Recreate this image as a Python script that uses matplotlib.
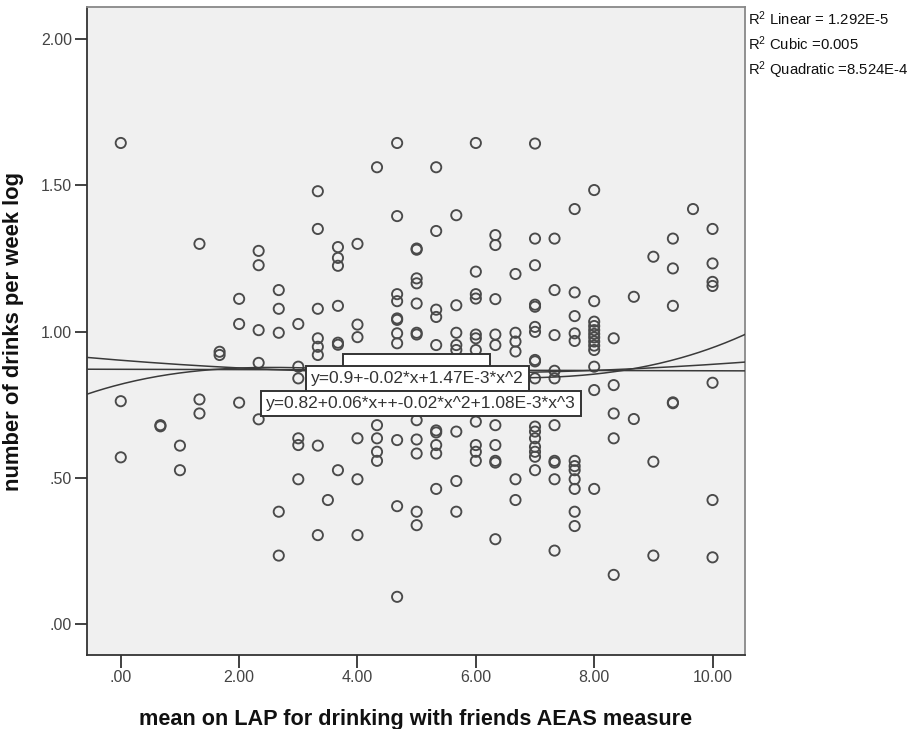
import numpy as np
import matplotlib
matplotlib.use('Agg')
import matplotlib.pyplot as plt
from matplotlib.patches import Rectangle

plt.rcParams['font.family'] = ['Liberation Sans', 'DejaVu Sans']

lap_levels = [0.0, 0.67, 1.0, 1.33, 1.67, 2.0, 2.33, 2.67, 3.0, 3.33, 3.5, 3.67,
              4.0, 4.33, 4.67, 5.0, 5.33, 5.67, 6.0, 6.33, 6.67, 7.0, 7.33,
              7.67, 8.0, 8.33, 8.67, 9.0, 9.33, 9.67, 10.0]
drinks_log = [
    [1.645, 0.762, 0.570],
    [0.680, 0.676],
    [0.610, 0.526],
    [1.300, 0.768, 0.720],
    [0.931, 0.920],
    [1.112, 1.026, 0.757],
    [1.276, 1.227, 1.005, 0.893, 0.700],
    [1.142, 1.078, 0.996, 0.384, 0.234],
    [1.026, 0.880, 0.840, 0.635, 0.612, 0.495],
    [1.480, 1.351, 1.078, 0.977, 0.948, 0.920, 0.610, 0.304],
    [0.424],
    [1.289, 1.252, 1.225, 1.088, 0.962, 0.955, 0.526],
    [1.300, 1.024, 0.981, 0.635, 0.495, 0.304],
    [1.562, 0.680, 0.635, 0.589, 0.558],
    [1.645, 1.395, 1.128, 1.104, 1.045, 1.040, 0.994, 0.960, 0.629, 0.403, 0.093],
    [1.284, 1.280, 1.182, 1.165, 1.096, 0.996, 0.990, 0.697, 0.631, 0.583, 0.384, 0.338],
    [1.562, 1.344, 1.075, 1.050, 0.954, 0.662, 0.655, 0.612, 0.583, 0.462],
    [1.398, 1.090, 0.996, 0.954, 0.937, 0.658, 0.489, 0.384],
    [1.645, 1.205, 1.128, 1.113, 0.990, 0.977, 0.937, 0.692, 0.612, 0.589, 0.558],
    [1.330, 1.296, 1.111, 0.990, 0.954, 0.680, 0.612, 0.558, 0.552, 0.290],
    [1.197, 0.996, 0.966, 0.932, 0.495, 0.424],
    [1.643, 1.318, 1.227, 1.092, 1.085, 1.016, 0.999, 0.903, 0.898, 0.840,
     0.675, 0.658, 0.635, 0.606, 0.589, 0.572, 0.526],
    [1.318, 1.142, 0.988, 0.866, 0.840, 0.680, 0.558, 0.552, 0.495, 0.251],
    [1.419, 1.134, 1.053, 0.994, 0.968, 0.558, 0.540, 0.526, 0.495, 0.462, 0.384, 0.335],
    [1.484, 1.104, 1.034, 1.019, 1.005, 0.992, 0.980, 0.966, 0.952, 0.937,
     0.880, 0.800, 0.462],
    [0.977, 0.817, 0.720, 0.635, 0.168],
    [1.119, 0.701],
    [1.256, 0.555, 0.234],
    [1.318, 1.216, 1.088, 0.758, 0.755],
    [1.419],
    [1.351, 1.233, 1.170, 1.156, 0.825, 0.424, 0.228],
]

# fitted curve coefficients (lowest order first), as drawn
linear_coef = [0.871, -0.0005]
quadratic_coef = [0.902, -0.0161, 0.00147]
cubic_coef = [0.82, 0.0514, -0.01387, 0.000998]

r2_labels = ['Linear = 1.292E-5', 'Cubic =0.005', 'Quadratic =8.524E-4']
quad_label = 'y=0.9+-0.02*x+1.47E-3*x^2'
cubic_label = 'y=0.82+0.06*x++-0.02*x^2+1.08E-3*x^3'

x_ticks = [0, 2, 4, 6, 8, 10]
x_tick_labels = ['.00', '2.00', '4.00', '6.00', '8.00', '10.00']
y_ticks = [0, 0.5, 1.0, 1.5, 2.0]
y_tick_labels = ['.00', '.50', '1.00', '1.50', '2.00']

xs = np.concatenate([[lv] * len(v) for lv, v in zip(lap_levels, drinks_log)])
ys = np.concatenate(drinks_log)

fig = plt.figure(figsize=(9.21, 7.29), dpi=100)
ax = fig.add_axes([0.0945, 0.1015, 0.7145, 0.8885])
ax.set_facecolor('#f0f0f0')

ax.scatter(xs, ys, s=54, facecolors='none', edgecolors='#4a4a4a', linewidths=1.35, zorder=2)

xmin, xmax = -0.57, 10.55
xx = np.linspace(xmin, xmax, 300)
for coef in (linear_coef, quadratic_coef, cubic_coef):
    ax.plot(xx, np.polynomial.polynomial.polyval(xx, coef), color='#3a3a3a', lw=1.1, zorder=3)

ax.set_xlim(xmin, xmax)
ax.set_ylim(-0.106, 2.109)

# the box of the linear label, almost fully hidden
ax.add_patch(Rectangle((3.76, 0.84), 2.48, 0.083, facecolor='white', edgecolor='#333333',
                       lw=1.4, zorder=4))
box = dict(boxstyle='square,pad=0.3', facecolor='white', edgecolor='#333333', lw=1.4)
ax.text(3.21, 0.839, quad_label, ha='left', va='center', fontsize=12.5, color='#333333',
        zorder=5, bbox=box)
ax.text(2.45, 0.754, cubic_label, ha='left', va='center', fontsize=12.5, color='#333333',
        zorder=6, bbox=box)

ax.set_xticks(x_ticks)
ax.set_xticklabels(x_tick_labels)
ax.set_yticks(y_ticks)
ax.set_yticklabels(y_tick_labels)
ax.tick_params(direction='out', length=9, width=1.3, color='#333333', labelsize=11.5,
               labelcolor='#444444', pad=2)
for side in ('left', 'bottom'):
    ax.spines[side].set_color('#333333')
    ax.spines[side].set_linewidth(1.3)
for side in ('top', 'right'):
    ax.spines[side].set_color('#888888')
    ax.spines[side].set_linewidth(1.3)

ax.set_xlabel('mean on LAP for drinking with friends AEAS measure', fontsize=15.6,
              fontweight='bold', labelpad=17, color='#111111')
ax.set_ylabel('number of drinks per week log', fontsize=15.8, fontweight='bold', labelpad=12,
              color='#111111')

for i, lab in enumerate(r2_labels):
    fig.text(0.812, 0.975 - i * 0.0355, '$\\mathregular{R^2}$ ' + lab, fontsize=10.7,
             ha='left', va='center', color='#111111')

fig.savefig('out.png', dpi=100)
